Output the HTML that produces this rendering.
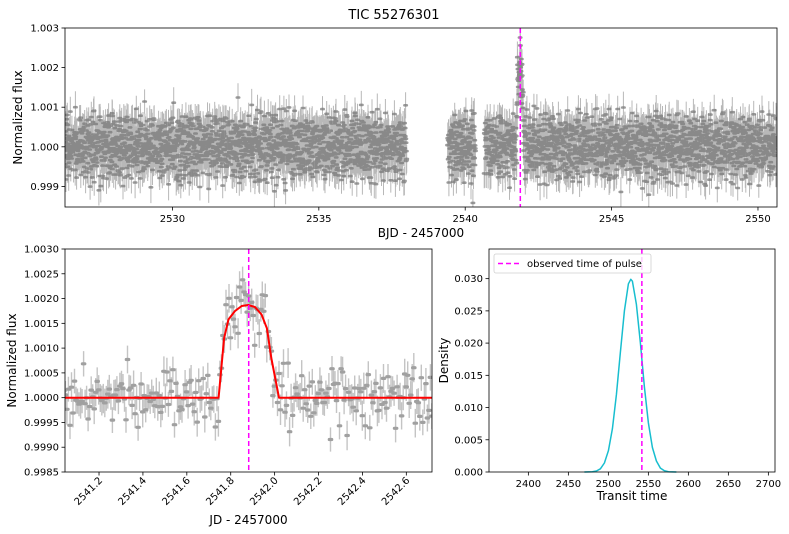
<!DOCTYPE html>
<html><head><meta charset="utf-8"><style>
body{margin:0;background:#fff}
svg{display:block;font-family:"DejaVu Sans","Liberation Sans",sans-serif}
</style></head><body>
<svg id="fig" width="789" height="534" viewBox="0 0 789 534">
<text x="394" y="19" font-size="13" text-anchor="middle">TIC 55276301</text>
<g id="top"></g>
<g id="bl"></g>
<g id="br"></g>
</svg>
<script>
// ---- data ----
const residuals=[0.12,-0.35,0.41,-0.08,0.27,-0.52,0.05,0.33,-0.21,0.58,-0.44,0.16,-0.02,0.37,-0.29,0.09,-0.61,0.24,0.46,-0.15,0.02,-0.38,0.31,-0.06,0.19,-0.47,0.53,-0.25,0.11,-0.33,0.44,-0.12,0.07,-0.55,0.28,0.15,-0.41,0.36,-0.19,0.01,0.49,-0.27,-0.09,0.22,-0.5,0.34,-0.14,0.06,0.4,-0.31,0.13,-0.04,0.26,-0.58,0.18,0.3,-0.23,0.08,-0.36,0.43,-0.11];
const segStarts=[2526.33,2539.4,2540.65];
const segEnds=[2538.0,2540.35,2550.65];
const modelT=[2541.0,2541.745,2541.77,2541.79,2541.82,2541.85,2541.88,2541.91,2541.94,2541.965,2541.985,2542.02,2542.72];
const modelF=[1.0,1.0,1.0012,1.00158,1.00175,1.00185,1.00187,1.00183,1.00168,1.0014,1.0008,1.0,1.0];
const pulseTime=2541.882;
const topYTicks=[0.999,1.000,1.001,1.002,1.003];
const topXTicks=[2530,2535,2540,2545,2550];
const blYTicks=[0.9985,0.9990,0.9995,1.0000,1.0005,1.0010,1.0015,1.0020,1.0025,1.0030];
const blXTicks=[2541.2,2541.4,2541.6,2541.8,2542.0,2542.2,2542.4,2542.6];
const densX=[2470,2480,2485,2490,2495,2500,2505,2510,2515,2520,2525,2528,2530,2535,2540,2545,2550,2555,2560,2565,2570,2575,2585];
const densY=[0,0.00004,0.00016,0.0005,0.0014,0.0033,0.0067,0.012,0.0186,0.025,0.0292,0.0299,0.0296,0.026,0.020,0.0132,0.0076,0.0038,0.0017,0.0006,0.0002,0.00005,0];
const brXTicks=[2400,2450,2500,2550,2600,2650,2700];
const brYTicks=[0.000,0.005,0.010,0.015,0.020,0.025,0.030];

const NS='http://www.w3.org/2000/svg';
function mk(parent,tag,attrs){const e=document.createElementNS(NS,tag);for(const k in attrs)e.setAttribute(k,attrs[k]);parent.appendChild(e);return e;}
function model(t){if(t<=modelT[0]||t>=modelT[modelT.length-1])return 1;for(let i=1;i<modelT.length;i++){if(t<=modelT[i]){const f=(t-modelT[i-1])/(modelT[i]-modelT[i-1]);return modelF[i-1]+f*(modelF[i]-modelF[i-1]);}}return 1;}
function lin(d0,d1,r0,r1){return v=>r0+(v-d0)/(d1-d0)*(r1-r0);}
function res(k){return 0.6*residuals[k%61]+0.5*residuals[(k*3)%53]+0.45*residuals[(k*5)%47]+0.35*residuals[(k*2)%37];}

function axes(g,L,R,T,B,sx,sy,xt,yt,xfmt,yfmt,rot){
  for(const v of xt){const x=sx(v);
    const tk=mk(g,'line',{x1:x,x2:x,y1:B,y2:B+3.5,stroke:'#000','stroke-width':0.8});
    
    let t;
    if(rot){t=mk(g,'text',{x:x+4,y:B+9,'font-size':10,'text-anchor':'end',transform:`rotate(-45 ${x+4} ${B+9})`});}
    else{t=mk(g,'text',{x:x,y:B+15,'font-size':10,'text-anchor':'middle'});}
    t.textContent=xfmt(v);}
  for(const v of yt){const y=sy(v);
    const tk=mk(g,'line',{x1:L-3.5,x2:L,y1:y,y2:y,stroke:'#000','stroke-width':0.8});
    
    const t=mk(g,'text',{x:L-6,y:y+3.5,'font-size':10,'text-anchor':'end'});
    t.textContent=yfmt(v);}
  const f=mk(g,'rect',{x:L,y:T,width:R-L,height:B-T,fill:'none',stroke:'#000','stroke-width':0.8});
  
}
function clip(id,L,R,T,B){const d=mk(document.getElementById('fig'),'clipPath',{id:id});mk(d,'rect',{x:L,y:T,width:R-L,height:B-T});}

// ---- top panel ----
(function(){
  const g=document.getElementById('top');const L=65,R=777,T=28,B=207;
  const sx=lin(2526.33,2550.65,L,R), sy=lin(0.99848,1.003,B,T);
  clip('ct',L,R,T,B);
  let eb='',pts='';let k=0;
  for(let s=0;s<segStarts.length;s++){
    for(let t=segStarts[s];t<=segEnds[s];t+=0.006){
      const f=model(t)+res(k)*0.0013;k++;
      const x=sx(t).toFixed(1),y=sy(f),e=12+7*Math.abs(residuals[(k*7)%43]);
      eb+=`M${x} ${(y-e).toFixed(1)}V${(y+e).toFixed(1)}`;
      pts+=`M${(+x-1.2).toFixed(1)} ${y.toFixed(1)}h2.4`;
    }}
  const gc=mk(g,'g',{'clip-path':'url(#ct)'});
  const p1=mk(gc,'path',{d:eb,stroke:'#9a9a9a','stroke-width':1,'stroke-opacity':0.7});
  
  const p2=mk(gc,'path',{d:pts,stroke:'#7a7a7a','stroke-width':2.6,'stroke-linecap':'round','stroke-opacity':0.75});
  
  const v=mk(g,'line',{x1:sx(pulseTime),x2:sx(pulseTime),y1:T,y2:B,stroke:'#ff00ff','stroke-width':1.5,'stroke-dasharray':'5,3'});
  
  axes(g,L,R,T,B,sx,sy,topXTicks,topYTicks,v=>v,v=>v.toFixed(3),false);
  const xl=mk(g,'text',{x:(L+R)/2,y:237,'font-size':12,'text-anchor':'middle'});xl.textContent='BJD - 2457000';
  
  const yl=mk(g,'text',{x:0,y:0,'font-size':12,'text-anchor':'middle',transform:`translate(22 ${(T+B)/2}) rotate(-90)`});yl.textContent='Normalized flux';
  
})();

// ---- bottom-left panel ----
(function(){
  const g=document.getElementById('bl');const L=65,R=432,T=249,B=472;
  const sx=lin(2541.045,2542.717,L,R), sy=lin(0.9985,1.0030,B,T);
  clip('cb',L,R,T,B);
  const gc=mk(g,'g',{'clip-path':'url(#cb)'});
  let eb='',pts='';let k=0;
  for(let t=2541.04;t<=2542.72;t+=0.0069){
    const f=model(t)+res(k+17)*0.001;k++;
    const x=sx(t),y=sy(f),e=12+6*Math.abs(residuals[(k*11)%41]);
    eb+=`M${x.toFixed(1)} ${(y-e).toFixed(1)}V${(y+e).toFixed(1)}`;
    pts+=`M${(x-1.2).toFixed(1)} ${y.toFixed(1)}h2.4`;
  }
  const p1=mk(gc,'path',{d:eb,stroke:'#c4c4c4','stroke-width':1.4});
  
  const p2=mk(gc,'path',{d:pts,stroke:'#a0a0a0','stroke-width':3.2,'stroke-linecap':'round'});
  
  let md='';for(let i=0;i<modelT.length;i++){const x=sx(modelT[i]),y=sy(modelF[i]);md+=(i?'L':'M')+x.toFixed(1)+' '+y.toFixed(1);}
  const m=mk(gc,'path',{d:md,fill:'none',stroke:'#ff0000','stroke-width':2,'stroke-linejoin':'round'});
  
  const v=mk(g,'line',{x1:sx(pulseTime),x2:sx(pulseTime),y1:T,y2:B,stroke:'#ff00ff','stroke-width':1.5,'stroke-dasharray':'5,3'});
  
  axes(g,L,R,T,B,sx,sy,blXTicks,blYTicks,v=>v.toFixed(1),v=>v.toFixed(4),true);
  const xl=mk(g,'text',{x:(L+R)/2,y:524,'font-size':12,'text-anchor':'middle'});xl.textContent='JD - 2457000';
  
  const yl=mk(g,'text',{x:0,y:0,'font-size':12,'text-anchor':'middle',transform:`translate(16 ${(T+B)/2}) rotate(-90)`});yl.textContent='Normalized flux';
  
})();

// ---- bottom-right panel ----
(function(){
  const g=document.getElementById('br');const L=489,R=775,T=249,B=472;
  const sx=lin(2350.8,2708.3,L,R), sy=lin(0,0.0346,B,T);
  let d='';for(let i=0;i<densX.length;i++){d+=(i?'L':'M')+sx(densX[i]).toFixed(1)+' '+sy(densY[i]).toFixed(1);}
  const c=mk(g,'path',{d:d,fill:'none',stroke:'#17becf','stroke-width':1.5,'stroke-linejoin':'round'});
  
  const v=mk(g,'line',{x1:sx(pulseTime),x2:sx(pulseTime),y1:T,y2:B,stroke:'#ff00ff','stroke-width':1.5,'stroke-dasharray':'5,3'});
  
  axes(g,L,R,T,B,sx,sy,brXTicks,brYTicks,v=>v,v=>v.toFixed(3),false);
  const lg=mk(g,'g',{});
  mk(lg,'rect',{x:494,y:254,width:157,height:19,rx:2,fill:'#fff','fill-opacity':0.8,stroke:'#d0d0d0','stroke-width':0.8});
  mk(lg,'line',{x1:498,x2:520,y1:263.5,y2:263.5,stroke:'#ff00ff','stroke-width':1.5,'stroke-dasharray':'5,3'});
  const lt=mk(lg,'text',{x:527,y:267,'font-size':10});lt.textContent='observed time of pulse';
  const xl=mk(g,'text',{x:(L+R)/2,y:500,'font-size':12,'text-anchor':'middle'});xl.textContent='Transit time';
  
  const yl=mk(g,'text',{x:0,y:0,'font-size':12,'text-anchor':'middle',transform:`translate(448 ${(T+B)/2}) rotate(-90)`});yl.textContent='Density';
  
})();
</script>
</body></html>
